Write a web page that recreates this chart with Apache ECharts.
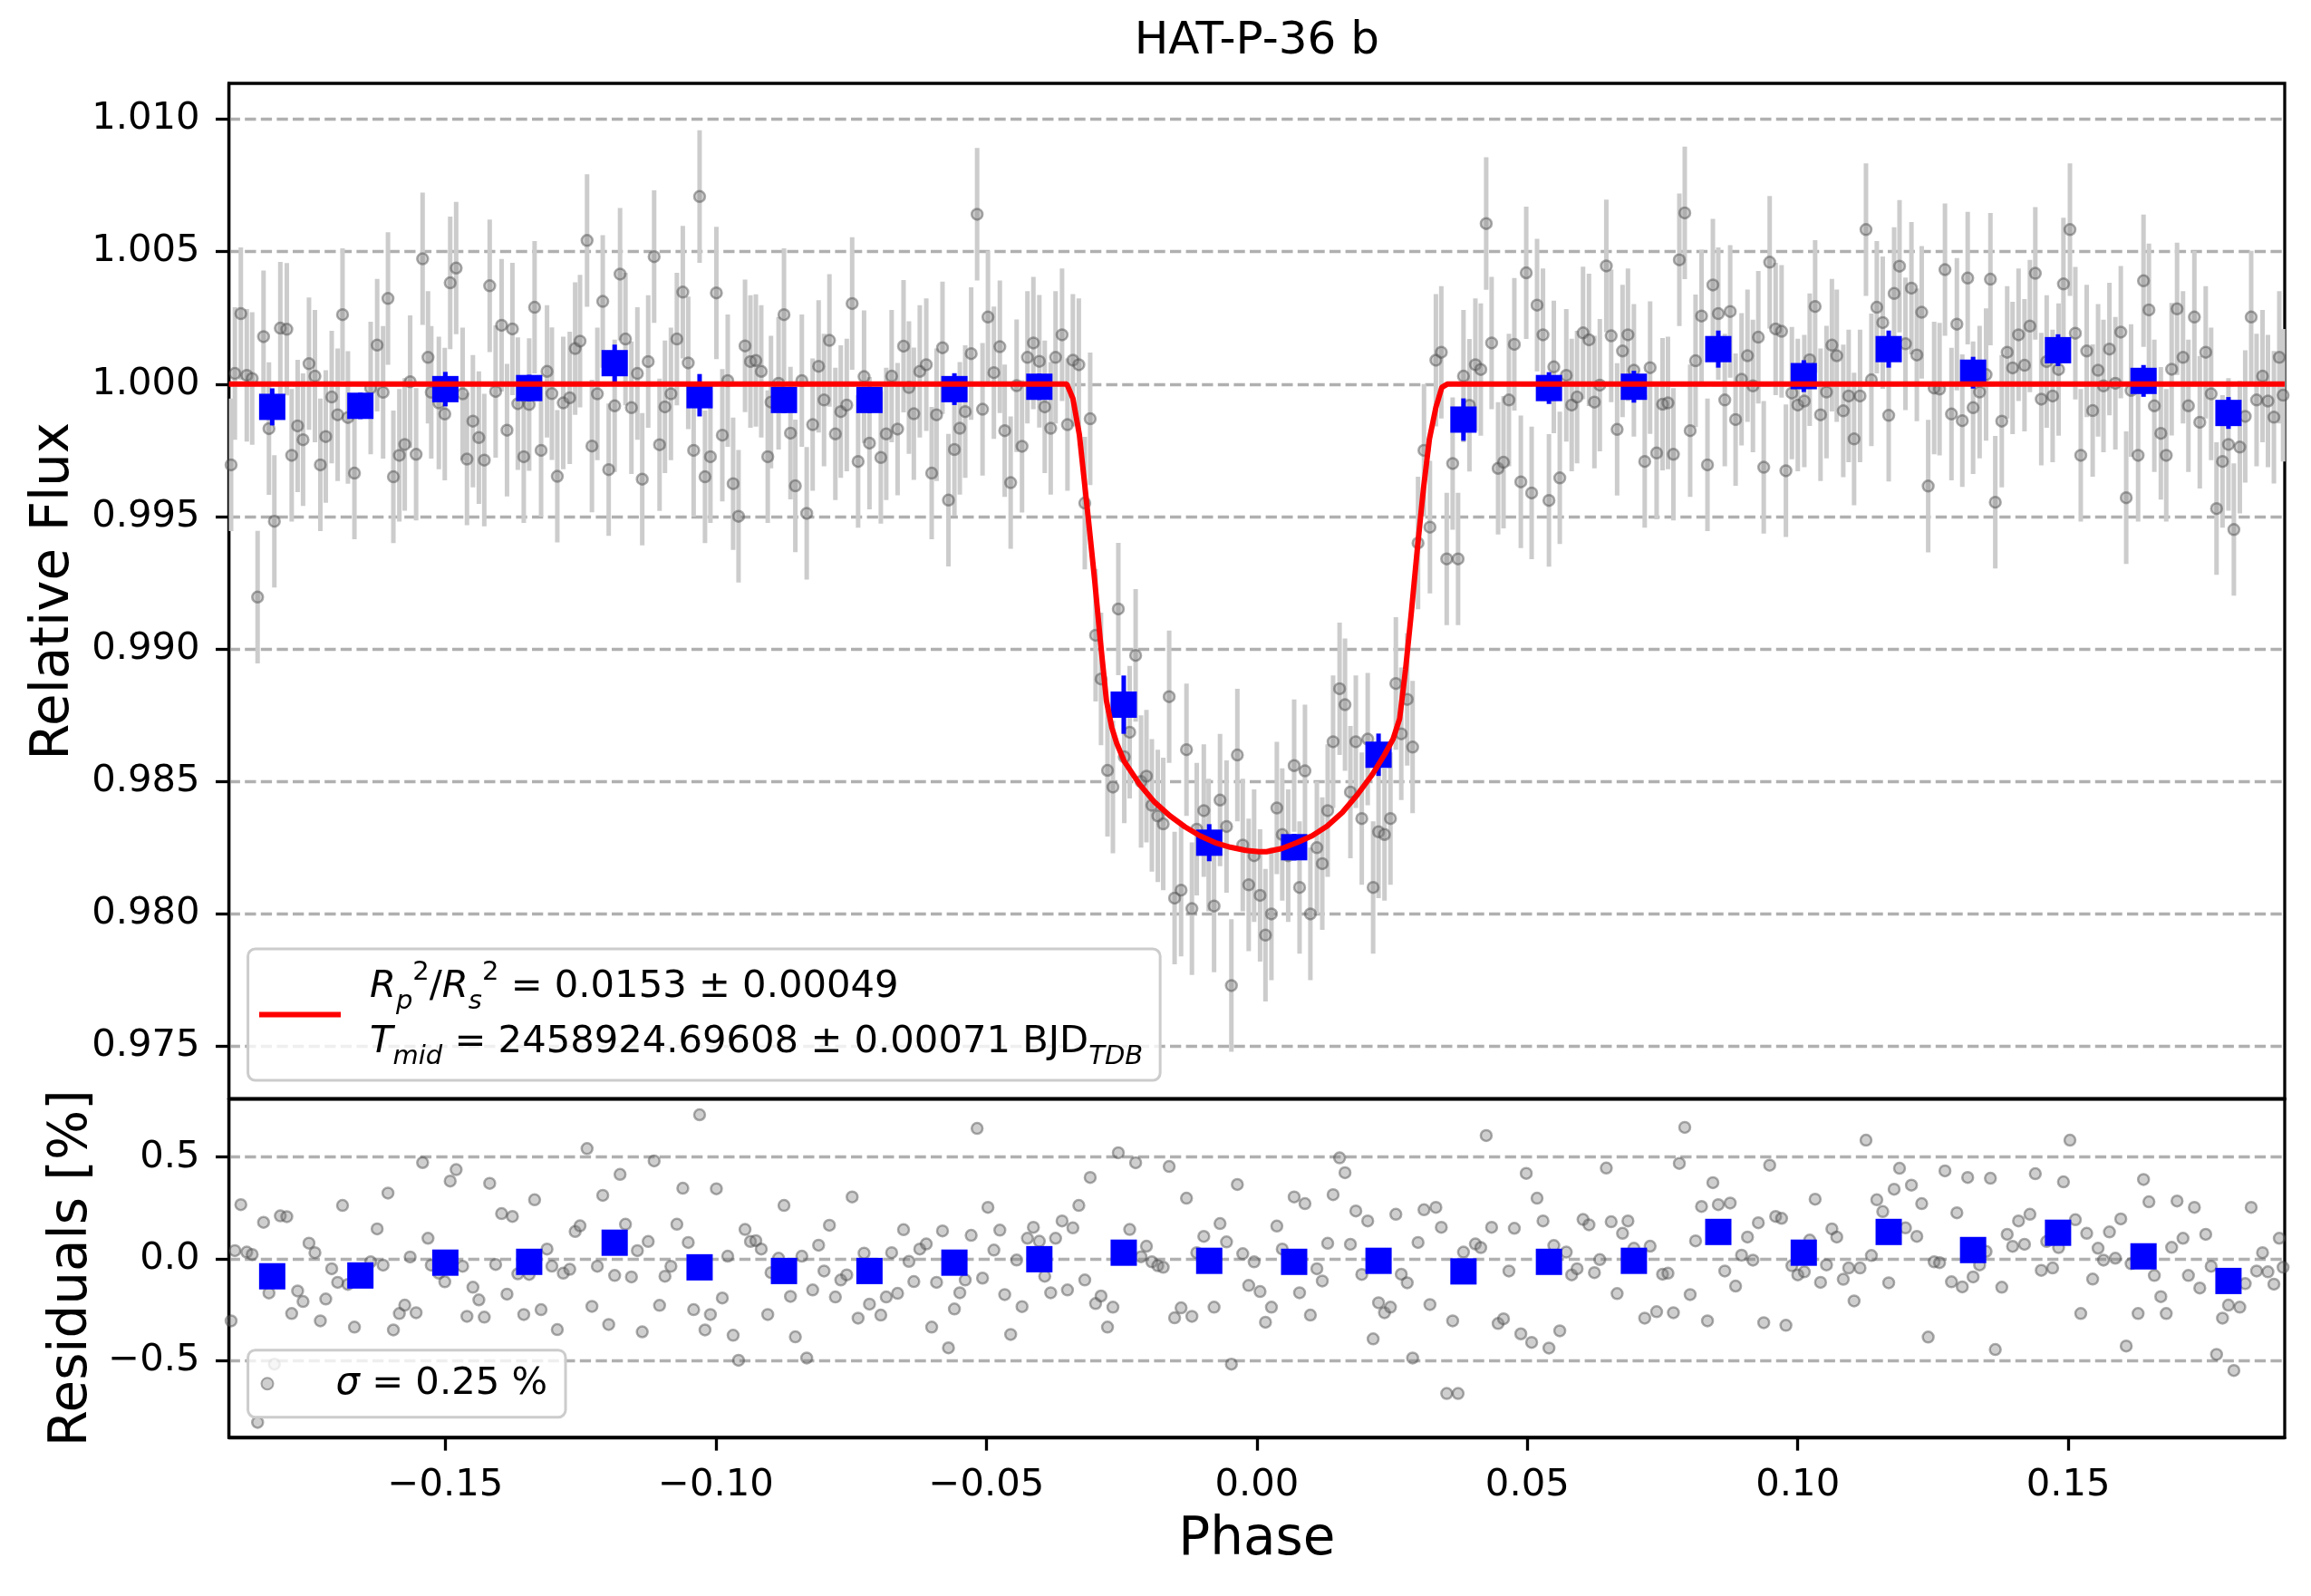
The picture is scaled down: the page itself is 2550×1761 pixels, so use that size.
<!DOCTYPE html>
<html lang="en">
<head>
    <meta charset="UTF-8">
    <title>HAT-P-36 b</title>
    <script src="https://cdn.jsdelivr.net/npm/echarts@6/dist/echarts.min.js"></script>
    <style>
        html, body { margin: 0; padding: 0; background: #ffffff; }
        #main { width: 2550px; height: 1761px; }
    </style>
</head>
<body>
<div id="main"></div>
<script>
    // ---- data ----
    // orbital phase of every light-curve point
    var phase = [
        -0.1896, -0.1889, -0.1878, -0.1867, -0.1857, -0.1847, -0.1836, -0.1826, -0.1816, -0.1805,
        -0.1793, -0.1784, -0.1773, -0.1763, -0.1752, -0.1741, -0.1731, -0.1721, -0.1710, -0.1699,
        -0.1690, -0.1680, -0.1668, -0.1638, -0.1626, -0.1615, -0.1606, -0.1596, -0.1585, -0.1575,
        -0.1565, -0.1554, -0.1542, -0.1532, -0.1526, -0.1512, -0.1501, -0.1491, -0.1480, -0.1468,
        -0.1460, -0.1449, -0.1438, -0.1428, -0.1418, -0.1407, -0.1396, -0.1386, -0.1376, -0.1366,
        -0.1355, -0.1345, -0.1335, -0.1323, -0.1312, -0.1303, -0.1293, -0.1282, -0.1270,
        -0.1260, -0.1251, -0.1238, -0.1229, -0.1219, -0.1209, -0.1198, -0.1187, -0.1177, -0.1167,
        -0.1156, -0.1145, -0.1136, -0.1125, -0.1114, -0.1104, -0.1094, -0.1083, -0.1072, -0.1061,
        -0.1051, -0.1041, -0.1030, -0.1020, -0.1010, -0.0999, -0.0988, -0.0978, -0.0968, -0.0958,
        -0.0946, -0.0936, -0.0926, -0.0916, -0.0904, -0.0898, -0.0884, -0.0874, -0.0862, -0.0853,
        -0.0841, -0.0832, -0.0821, -0.0810, -0.0800, -0.0790, -0.0779, -0.0769, -0.0758, -0.0748,
        -0.0737, -0.0726, -0.0716, -0.0695, -0.0685, -0.0675, -0.0664, -0.0653, -0.0643, -0.0634,
        -0.0623, -0.0611, -0.0601, -0.0592, -0.0581, -0.0570, -0.0559, -0.0549, -0.0539, -0.0528,
        -0.0517, -0.0507, -0.0497, -0.0486, -0.0475, -0.0466, -0.0455, -0.0444, -0.0434, -0.0424,
        -0.0413, -0.0402, -0.0392, -0.0381, -0.0372, -0.0360, -0.0350, -0.0340, -0.0329, -0.0318,
        -0.0308, -0.0298, -0.0288, -0.0276, -0.0266, -0.0256, -0.0245, -0.0235, -0.0224, -0.0214,
        -0.0204, -0.0194, -0.0183, -0.0173, -0.0162, -0.0152, -0.0140, -0.0130, -0.0120, -0.0111,
        -0.0098, -0.0089, -0.0079, -0.0068, -0.0056, -0.0047, -0.0036, -0.0026, -0.0015, -0.0005,
        0.0006,
        0.0016, 0.0027, 0.0037, 0.0047, 0.0058, 0.0069, 0.0079, 0.0089, 0.0099, 0.0111,
        0.0121, 0.0131, 0.0141, 0.0153, 0.0163, 0.0173, 0.0183, 0.0194, 0.0205, 0.0215,
        0.0225, 0.0236, 0.0247, 0.0257, 0.0267, 0.0278, 0.0288, 0.0298, 0.0309, 0.0320,
        0.0331, 0.0341, 0.0351, 0.0362, 0.0372, 0.0382, 0.0393, 0.0404, 0.0414, 0.0424, 0.0434,
        0.0446, 0.0456, 0.0466, 0.0476, 0.0488, 0.0498, 0.0508, 0.0518, 0.0529, 0.0540,
        0.0549, 0.0560, 0.0572, 0.0582, 0.0592, 0.0603, 0.0614, 0.0624, 0.0634,
        0.0646, 0.0655, 0.0666, 0.0676, 0.0686, 0.0697, 0.0717, 0.0727, 0.0739, 0.0750,
        0.0760, 0.0770, 0.0781, 0.0791, 0.0801, 0.0811, 0.0822, 0.0833, 0.0843, 0.0853,
        0.0865, 0.0875, 0.0885, 0.0896, 0.0907, 0.0917, 0.0927, 0.0937, 0.0948, 0.0959,
        0.0970, 0.0978, 0.0989, 0.1000, 0.1012, 0.1022, 0.1032, 0.1042, 0.1053, 0.1063,
        0.1072, 0.1084, 0.1094, 0.1104, 0.1115, 0.1126, 0.1136, 0.1146, 0.1157, 0.1168,
        0.1178, 0.1188, 0.1199, 0.1210, 0.1220, 0.1229, 0.1241, 0.1252, 0.1262, 0.1272,
        0.1284, 0.1294, 0.1304, 0.1314, 0.1324, 0.1336, 0.1348, 0.1356, 0.1365, 0.1377,
        0.1387, 0.1397, 0.1408, 0.1419, 0.1429, 0.1439, 0.1450, 0.1460, 0.1471, 0.1482,
        0.1491, 0.1503, 0.1513, 0.1523, 0.1534, 0.1545, 0.1555, 0.1565, 0.1576, 0.1587,
        0.1597, 0.1607, 0.1616, 0.1629, 0.1639, 0.1649, 0.1659, 0.1671, 0.1681, 0.1691,
        0.1701, 0.1712, 0.1722, 0.1733, 0.1743, 0.1754, 0.1764, 0.1774, 0.1785, 0.1796,
        0.1806, 0.1817, 0.1827, 0.1838, 0.1848, 0.1859, 0.1869, 0.1880, 0.1890, 0.1897
    ];

    // relative flux of every point (top panel)
    var flux = [
        0.99695, 1.00040, 1.00266, 1.00033, 1.00021, 0.99196, 1.00179, 0.99832, 0.99482, 1.00211,
        1.00207, 0.99731, 0.99842, 0.99790, 1.00077, 1.00030, 0.99695, 0.99802, 0.99951, 0.99884,
        1.00262, 0.99874, 0.99664, 0.99985, 1.00147, 0.99969, 1.00323, 0.99650, 0.99731, 0.99772,
        1.00009, 0.99735, 1.00473, 1.00101, 0.99969, 0.99929, 0.99887, 1.00382, 1.00438, 0.99963,
        0.99717, 0.99860, 0.99798, 0.99713, 1.00371, 0.99972, 1.00222, 0.99826, 1.00208, 0.99926,
        0.99726, 0.99923, 1.00290, 0.99750, 1.00048, 0.99964, 0.99652, 0.99929, 0.99948,
        1.00134, 1.00162, 1.00542, 0.99766, 0.99963, 1.00312, 0.99677, 0.99918, 1.00415, 1.00170,
        0.99911, 1.00040, 0.99641, 1.00085, 1.00481, 0.99771, 0.99914, 0.99963, 1.00170, 1.00347,
        1.00080, 0.99750, 1.00708, 0.99650, 0.99726, 1.00344, 0.99807, 1.00013, 0.99624, 0.99501,
        1.00144, 1.00085, 1.00089, 1.00048, 0.99726, 0.99932, 1.00003, 1.00262, 0.99815, 0.99616,
        1.00013, 0.99512, 0.99847, 1.00067, 0.99940, 1.00165, 0.99812, 0.99896, 0.99921, 1.00304,
        0.99708, 1.00028, 0.99777, 0.99723, 0.99812, 1.00030, 0.99830, 1.00143, 0.99987, 0.99888,
        1.00048, 1.00073, 0.99664, 0.99884, 1.00137, 0.99562, 0.99753, 0.99833, 0.99896, 1.00115,
        1.00641, 0.99905, 1.00253, 1.00043, 1.00141, 0.99824, 0.99628, 0.99994, 0.99765, 1.00101,
        1.00155, 1.00086, 0.99914, 0.99833, 1.00101, 1.00186, 0.99847, 1.00090, 1.00073, 0.99551,
        0.99869, 0.99052, 0.98887, 0.98542, 0.98479, 0.99151, 0.98593, 0.98686, 0.98976, 0.98500,
        0.98520, 0.98410, 0.98370, 0.98340, 0.98820, 0.98060, 0.98090, 0.98620, 0.98020, 0.98320,
        0.98390, 0.98260, 0.98030, 0.98430, 0.98330, 0.97730, 0.98600, 0.98260, 0.98110, 0.98220,
        0.98070,
        0.97920, 0.98000, 0.98400, 0.98300, 0.98220, 0.98560, 0.98100, 0.98540, 0.98000, 0.98250,
        0.98190, 0.98390, 0.98650, 0.98850, 0.98790, 0.98460, 0.98650, 0.98360, 0.98660, 0.98100,
        0.98310, 0.98300, 0.98360, 0.98870, 0.98680, 0.98810, 0.98630, 0.99400, 0.99750, 0.99460,
        1.00090, 1.00120, 0.99340, 0.99700, 0.99340, 1.00030, 0.99920, 1.00073, 1.00055, 1.00606, 1.00155,
        0.99682, 0.99705, 0.99940, 1.00150, 0.99631, 1.00420, 0.99589, 1.00298, 1.00186, 0.99561,
        1.00065, 0.99646, 1.00033, 0.99921, 0.99951, 1.00193, 1.00167, 0.99932, 0.99996,
        1.00446, 1.00182, 0.99829, 1.00125, 1.00186, 1.00052, 0.99708, 1.00062, 0.99740, 0.99924,
        0.99929, 0.99735, 1.00469, 1.00646, 0.99824, 1.00088, 1.00257, 0.99695, 1.00374, 1.00266,
        0.99940, 1.00274, 0.99866, 1.00018, 1.00107, 0.99993, 1.00177, 0.99686, 1.00460, 1.00208,
        1.00199, 0.99673, 0.99966, 0.99921, 0.99936, 1.00092, 1.00293, 0.99884, 0.99970, 1.00147,
        1.00107, 0.99899, 0.99955, 0.99793, 0.99955, 1.00583, 1.00016, 1.00290, 1.00232, 0.99882,
        1.00342, 1.00445, 1.00152, 1.00362, 1.00110, 1.00271, 0.99615, 0.99985, 0.99981, 1.00432,
        0.99887, 1.00226, 0.99862, 1.00400, 0.99911, 0.99970, 1.00036, 1.00396, 0.99554, 0.99860,
        1.00120, 1.00061, 1.00186, 1.00071, 1.00219, 1.00418, 0.99943, 1.00085, 0.99955, 1.00055,
        1.00378, 1.00583, 1.00192, 0.99731, 1.00125, 0.99900, 1.00052, 0.99993, 1.00132, 1.00003,
        1.00196, 0.99571, 0.99976, 0.99731, 1.00390, 1.00280, 0.99918, 0.99814, 0.99731, 1.00056,
        1.00284, 1.00101, 0.99918, 1.00253, 0.99856, 1.00120, 0.99963, 0.99530, 0.99708, 0.99772,
        0.99451, 0.99762, 0.99878, 1.00253, 0.99940, 1.00030, 0.99936, 0.99875, 1.00101, 0.99958
    ];

    // residuals in percent (bottom panel)
    var resid = [
        -0.305, 0.040, 0.266, 0.033, 0.021, -0.804, 0.179, -0.168, -0.518, 0.211,
        0.207, -0.269, -0.158, -0.210, 0.077, 0.030, -0.305, -0.198, -0.049, -0.116,
        0.262, -0.126, -0.336, -0.015, 0.147, -0.031, 0.323, -0.350, -0.269, -0.228,
        0.009, -0.265, 0.473, 0.101, -0.031, -0.071, -0.113, 0.382, 0.438, -0.037,
        -0.283, -0.140, -0.202, -0.287, 0.371, -0.028, 0.222, -0.174, 0.208, -0.074,
        -0.274, -0.077, 0.290, -0.250, 0.048, -0.036, -0.348, -0.071, -0.052,
        0.134, 0.162, 0.542, -0.234, -0.037, 0.312, -0.323, -0.082, 0.415, 0.170,
        -0.089, 0.040, -0.359, 0.085, 0.481, -0.229, -0.086, -0.037, 0.170, 0.347,
        0.080, -0.250, 0.708, -0.350, -0.274, 0.344, -0.193, 0.013, -0.376, -0.499,
        0.144, 0.085, 0.089, 0.048, -0.274, -0.068, 0.003, 0.262, -0.185, -0.384,
        0.013, -0.488, -0.153, 0.067, -0.060, 0.165, -0.188, -0.104, -0.079, 0.304,
        -0.292, 0.028, -0.223, -0.277, -0.188, 0.030, -0.170, 0.143, -0.013, -0.112,
        0.048, 0.073, -0.336, -0.116, 0.137, -0.438, -0.247, -0.167, -0.104, 0.115,
        0.641, -0.095, 0.253, 0.043, 0.141, -0.176, -0.372, -0.006, -0.235, 0.101,
        0.155, 0.086, -0.086, -0.167, 0.101, 0.186, -0.153, 0.152, 0.262, -0.104,
        0.400, -0.220, -0.183, -0.336, -0.238, 0.521, 0.020, 0.144, 0.472, 0.010,
        0.062, -0.015, -0.034, -0.042, 0.454, -0.290, -0.241, 0.298, -0.283, 0.030,
        0.110, -0.010, -0.238, 0.173, 0.083, -0.518, 0.365, 0.025, -0.131, -0.015,
        -0.161,
        -0.312, -0.238, 0.161, 0.048, -0.030, 0.304, -0.167, 0.271, -0.277, -0.049,
        -0.109, 0.076, 0.315, 0.496, 0.423, 0.071, 0.235, -0.077, 0.186, -0.394,
        -0.216, -0.265, -0.238, 0.219, -0.076, -0.118, -0.488, 0.080, 0.241, -0.225,
        0.253, 0.155, -0.662, -0.305, -0.662, 0.033, -0.080, 0.073, 0.055, 0.606, 0.155,
        -0.318, -0.295, -0.060, 0.150, -0.369, 0.420, -0.411, 0.298, 0.186, -0.439,
        0.065, -0.354, 0.033, -0.079, -0.049, 0.193, 0.167, -0.068, -0.004,
        0.446, 0.182, -0.171, 0.125, 0.186, 0.052, -0.292, 0.062, -0.260, -0.076,
        -0.071, -0.265, 0.469, 0.646, -0.176, 0.088, 0.257, -0.305, 0.374, 0.266,
        -0.060, 0.274, -0.134, 0.018, 0.107, -0.007, 0.177, -0.314, 0.460, 0.208,
        0.199, -0.327, -0.034, -0.079, -0.064, 0.092, 0.293, -0.116, -0.030, 0.147,
        0.107, -0.101, -0.045, -0.207, -0.045, 0.583, 0.016, 0.290, 0.232, -0.118,
        0.342, 0.445, 0.152, 0.362, 0.110, 0.271, -0.385, -0.015, -0.019, 0.432,
        -0.113, 0.226, -0.138, 0.400, -0.089, -0.030, 0.036, 0.396, -0.446, -0.140,
        0.120, 0.061, 0.186, 0.071, 0.219, 0.418, -0.057, 0.085, -0.045, 0.055,
        0.378, 0.583, 0.192, -0.269, 0.125, -0.100, 0.052, -0.007, 0.132, 0.003,
        0.196, -0.429, -0.024, -0.269, 0.390, 0.280, -0.082, -0.186, -0.269, 0.056,
        0.284, 0.101, -0.082, 0.253, -0.144, 0.120, -0.037, -0.470, -0.292, -0.228,
        -0.549, -0.238, -0.122, 0.253, -0.060, 0.030, -0.064, -0.125, 0.101, -0.042
    ];

    // half length of the grey error bars
    var fluxErr = 0.0025;

    // binned points (blue squares)
    var binPhase = [-0.1820, -0.1657, -0.1500, -0.1345, -0.1187, -0.1030, -0.0874, -0.0716,
        -0.0559, -0.0402, -0.0246, -0.0088, 0.0069, 0.0225, 0.0382, 0.0540,
        0.0697, 0.0853, 0.1011, 0.1168, 0.1324, 0.1481, 0.1639, 0.1796];
    var binFlux = [0.99914, 0.99918, 0.99981, 0.99985, 1.00079, 0.99958, 0.99940, 0.99940,
        0.99981, 0.99990, 0.98790, 0.98269, 0.98252, 0.98601, 0.99866, 0.99985,
        0.99990, 1.00132, 1.00030, 1.00132, 1.00043, 1.00128, 1.00012, 0.99891];
    var binErr = [0.0007, 0.0005, 0.00065, 0.0005, 0.0007, 0.0008, 0.0005, 0.0005,
        0.0006, 0.0005, 0.0011, 0.0007, 0.0005, 0.0008, 0.0008, 0.0006,
        0.0006, 0.0007, 0.0006, 0.0007, 0.0006, 0.0006, 0.0006, 0.0006];
    var binResid = [-0.086, -0.082, -0.019, -0.015, 0.079, -0.042, -0.060, -0.060,
        -0.019, -0.002, 0.030, -0.010, -0.015, -0.010, -0.062, -0.015,
        -0.010, 0.132, 0.030, 0.132, 0.043, 0.128, 0.012, -0.109];

    // transit model (red curve)
    var modelPhase = [-0.19, -0.0351, -0.0340, -0.0328, -0.0320, -0.0312, -0.0300, -0.0289, -0.0278,
        -0.0268, -0.0259, -0.0245, -0.0217, -0.0189, -0.0161, -0.0133, -0.0105, -0.0077,
        -0.0049, -0.0021, 0.0004, 0.0018, 0.0046, 0.0074, 0.0102, 0.0130, 0.0158, 0.0185,
        0.0213, 0.0236, 0.0252, 0.0264, 0.0275, 0.0286, 0.0297, 0.0308, 0.0319, 0.0331,
        0.0342, 0.0352, 0.19];
    var modelFlux = [1.0, 1.0, 0.99946, 0.99809, 0.99656, 0.99503, 0.99265, 0.99027, 0.98805,
        0.98703, 0.98644, 0.98576, 0.98490, 0.98422, 0.98371, 0.98329, 0.98295, 0.98269,
        0.98252, 0.98240, 0.98235, 0.98235, 0.98247, 0.98269, 0.98295, 0.98332, 0.98383, 0.98448,
        0.98525, 0.98601, 0.98661, 0.98737, 0.98924, 0.99146, 0.99384, 0.99605, 0.99792, 0.99912,
        0.99988, 1.0, 1.0];

    // tick labels
    var xTicks = [-0.15, -0.10, -0.05, 0.00, 0.05, 0.10, 0.15];
    var fluxTicks = [0.975, 0.980, 0.985, 0.990, 0.995, 1.000, 1.005, 1.010];
    var residTicks = [-0.5, 0.0, 0.5];

    // ---- chart ----
    var FONT = 'DejaVu Sans';
    var TICK = 41.7;
    var LABEL = 58;

    function fmt(digits) {
        return function (v) {
            return (v < 0 ? '\u2212' : '') + Math.abs(v).toFixed(digits);
        };
    }

    function errorBar(color, width) {
        return function (params, api) {
            var x = api.value(0);
            var hi = api.coord([x, api.value(2)]);
            var lo = api.coord([x, api.value(1)]);
            return {
                type: 'line',
                shape: { x1: hi[0], y1: hi[1], x2: lo[0], y2: lo[1] },
                style: { stroke: color, lineWidth: width }
            };
        };
    }

    var gridLine = {
        show: true,
        lineStyle: { color: '#b0b0b0', width: 3.3, type: [12.3, 5.3] }
    };
    var spine = { show: true, onZero: false, lineStyle: { color: '#000', width: 3.3 } };
    var tickStyle = { length: 14.6, lineStyle: { color: '#000', width: 3.3 } };
    var labelStyle = { fontSize: TICK, fontFamily: FONT, color: '#000' };
    var nameStyle = { fontSize: LABEL, fontFamily: FONT, color: '#000' };

    var greyPoint = {
        color: 'rgba(128,128,128,0.38)',
        borderColor: 'rgba(70,70,70,0.45)',
        borderWidth: 2.5,
        opacity: 1
    };

    var fluxPts = phase.map(function (p, i) { return [p, flux[i]]; });
    var fluxBars = phase.map(function (p, i) { return [p, flux[i] - fluxErr, flux[i] + fluxErr]; });
    var residPts = phase.map(function (p, i) { return [p, resid[i]]; });
    var binPts = binPhase.map(function (p, i) { return [p, binFlux[i]]; });
    var binBars = binPhase.map(function (p, i) { return [p, binFlux[i] - binErr[i], binFlux[i] + binErr[i]]; });
    var binResidPts = binPhase.map(function (p, i) { return [p, binResid[i]]; });
    var modelPts = modelPhase.map(function (p, i) { return [p, modelFlux[i]]; });

    var topLegendText = '{i|R}{sub|p}{sup|2}{n|/}{i|R}{sub|s}{sup|2}{n| = 0.0153 \u00b1 0.00049}\n' +
        '{i|T}{sub|mid}{n| = 2458924.69608 \u00b1 0.00071 BJD}{sub|TDB}';
    var legendRich = {
        n: { fontSize: TICK, fontFamily: FONT, color: '#000', lineHeight: 61 },
        i: { fontSize: TICK, fontFamily: FONT, color: '#000', fontStyle: 'italic', lineHeight: 61 },
        sub: { fontSize: 29, fontFamily: FONT, color: '#000', fontStyle: 'italic', lineHeight: 40, verticalAlign: 'bottom' },
        sup: { fontSize: 29, fontFamily: FONT, color: '#000', lineHeight: 40, verticalAlign: 'top' }
    };

    var option = {
        animation: false,
        backgroundColor: '#ffffff',
        title: {
            text: 'HAT-P-36 b',
            left: 1386.8,
            top: 21,
            textAlign: 'center',
            padding: 0,
            textStyle: { fontSize: 50, fontWeight: 'normal', fontFamily: FONT, color: '#000' }
        },
        legend: [
            {
                data: [{ name: 'model', icon: 'rect' }],
                left: 273.6,
                top: 1047,
                itemWidth: 90,
                itemHeight: 6,
                selectedMode: false,
                padding: [11.5, 19, 11.5, 12.4],
                backgroundColor: 'rgba(255,255,255,0.8)',
                borderColor: '#cccccc',
                borderWidth: 3,
                borderRadius: 8,
                formatter: function () { return topLegendText; },
                textStyle: {
                    fontSize: TICK, fontFamily: FONT, color: '#000', lineHeight: 61,
                    padding: [0, 0, 0, 27], rich: legendRich
                }
            },
            {
                data: [{ name: 'resid', icon: 'circle' }],
                left: 273.6,
                top: 1489.7,
                itemWidth: 90,
                itemHeight: 13,
                selectedMode: false,
                padding: [12, 20, 12, 13.9],
                backgroundColor: 'rgba(255,255,255,0.8)',
                borderColor: '#cccccc',
                borderWidth: 3,
                borderRadius: 8,
                formatter: function () { return '{i|\u03c3}{n| = 0.25 %}'; },
                textStyle: {
                    fontSize: TICK, fontFamily: FONT, color: '#000', lineHeight: 50,
                    padding: [0, 0, 0, 25.5],
                    rich: {
                        n: { fontSize: TICK, fontFamily: FONT, color: '#000', lineHeight: 50 },
                        i: { fontSize: TICK, fontFamily: FONT, color: '#000', fontStyle: 'italic', lineHeight: 50 }
                    }
                }
            }
        ],
        grid: [
            { left: 252.6, top: 92, width: 2268.4, height: 1120.5, show: true, borderColor: '#000', borderWidth: 3.3, backgroundColor: 'transparent' },
            { left: 252.6, top: 1212.5, width: 2268.4, height: 373.5, show: true, borderColor: '#000', borderWidth: 3.3, backgroundColor: 'transparent' }
        ],
        xAxis: [
            {
                gridIndex: 0, type: 'value', min: -0.19, max: 0.19, splitNumber: 8,
                axisLine: spine, axisTick: { show: false }, axisLabel: { show: false }, splitLine: { show: false }
            },
            {
                gridIndex: 1, type: 'value', min: -0.19, max: 0.19, splitNumber: 8,
                axisLine: spine,
                axisTick: Object.assign({ show: true, customValues: xTicks }, tickStyle),
                axisLabel: Object.assign({ customValues: xTicks, formatter: fmt(2), margin: 32 }, labelStyle),
                splitLine: { show: false },
                name: 'Phase', nameLocation: 'middle', nameGap: 85, nameTextStyle: nameStyle
            }
        ],
        yAxis: [
            {
                gridIndex: 0, type: 'value', min: 0.97302, max: 1.01135, splitNumber: 8,
                axisLine: spine,
                axisTick: Object.assign({ show: true, customValues: fluxTicks }, tickStyle),
                axisLabel: Object.assign({ customValues: fluxTicks, formatter: fmt(3), margin: 32 }, labelStyle),
                splitLine: gridLine,
                name: 'Relative Flux', nameLocation: 'middle', nameGap: 164, nameTextStyle: nameStyle
            },
            {
                gridIndex: 1, type: 'value', min: -0.878, max: 0.786, splitNumber: 3,
                axisLine: spine,
                axisTick: Object.assign({ show: true, customValues: residTicks }, tickStyle),
                axisLabel: Object.assign({ customValues: residTicks, formatter: fmt(1), margin: 32 }, labelStyle),
                splitLine: gridLine,
                name: 'Residuals [%]', nameLocation: 'middle', nameGap: 144, nameTextStyle: nameStyle
            }
        ],
        series: [
            {
                name: 'fluxErr', type: 'custom', xAxisIndex: 0, yAxisIndex: 0,
                data: fluxBars, encode: { x: 0, y: [1, 2] },
                renderItem: errorBar('#cccccc', 5), silent: true, z: 1
            },
            {
                name: 'flux', type: 'scatter', xAxisIndex: 0, yAxisIndex: 0,
                data: fluxPts, symbol: 'circle', symbolSize: 12,
                itemStyle: greyPoint, silent: true, z: 2
            },
            {
                name: 'binErr', type: 'custom', xAxisIndex: 0, yAxisIndex: 0,
                data: binBars, encode: { x: 0, y: [1, 2] },
                renderItem: errorBar('#0000ff', 5), silent: true, z: 3
            },
            {
                name: 'bins', type: 'scatter', xAxisIndex: 0, yAxisIndex: 0,
                data: binPts, symbol: 'rect', symbolSize: 29,
                itemStyle: { color: '#0000ff', opacity: 1 }, silent: true, z: 4
            },
            {
                name: 'model', type: 'line', xAxisIndex: 0, yAxisIndex: 0,
                data: modelPts, showSymbol: false, symbol: 'none',
                lineStyle: { color: '#ff0000', width: 6 }, itemStyle: { color: '#ff0000' },
                silent: true, z: 5
            },
            {
                name: 'resid', type: 'scatter', xAxisIndex: 1, yAxisIndex: 1,
                data: residPts, symbol: 'circle', symbolSize: 12,
                itemStyle: greyPoint, silent: true, z: 2
            },
            {
                name: 'residBins', type: 'scatter', xAxisIndex: 1, yAxisIndex: 1,
                data: binResidPts, symbol: 'rect', symbolSize: 29,
                itemStyle: { color: '#0000ff', opacity: 1 }, silent: true, z: 4
            }
        ]
    };

    var myChart = echarts.init(document.getElementById('main'));
    myChart.setOption(option);
</script>
</body>
</html>
